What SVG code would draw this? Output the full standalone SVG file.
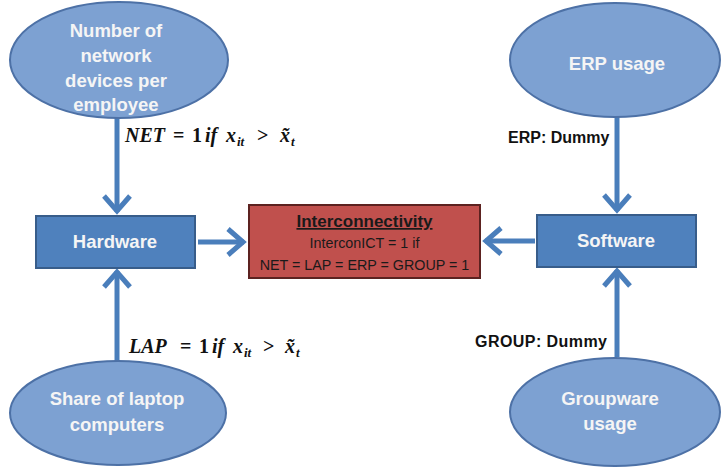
<svg xmlns="http://www.w3.org/2000/svg" width="721" height="467" viewBox="0 0 721 467">
<style>
.ell{fill:#7da1d2;stroke:#4d71a6;stroke-width:2}
.box{fill:#4f81bd;stroke:#385d8a;stroke-width:2}
.red{fill:#c0504d;stroke:#5c2220;stroke-width:2}
.lt{font-family:"Liberation Sans",Arial,sans-serif;font-weight:bold;font-size:18.5px;fill:#f5f5f5;text-anchor:middle}
.ct{font-family:"Liberation Sans",Arial,sans-serif;font-size:14.3px;fill:#1a1a1a;text-anchor:middle}
.ttl{font-weight:bold;font-size:17px;text-decoration:underline}
.lab{font-family:"Liberation Sans",Arial,sans-serif;font-weight:bold;font-size:16px;fill:#111}
.m{font-family:"Liberation Serif","Times New Roman",serif;font-weight:bold;font-style:italic;font-size:20px;fill:#111}
.up{font-style:normal}
.sub{font-size:13px}
.conn{stroke:#4a7ebb;stroke-width:5;fill:none;marker-end:url(#ah)}
</style>
<defs>
<marker id="ah" markerUnits="userSpaceOnUse" markerWidth="40" markerHeight="40" refX="0" refY="0" viewBox="-20 -20 40 40" orient="auto" overflow="visible">
<path d="M-16,-13 L-1,0 L-16,13" fill="none" stroke="#4a7ebb" stroke-width="5" stroke-linejoin="miter"/>
</marker>
</defs>
<rect width="721" height="467" fill="#ffffff"/>
<g id="connectors">
<line class="conn" x1="117" y1="118" x2="117" y2="212"/>
<line class="conn" x1="117" y1="362" x2="117" y2="271"/>
<line class="conn" x1="198" y1="242" x2="244" y2="242"/>
<line class="conn" x1="535" y1="241" x2="485" y2="241"/>
<line class="conn" x1="617" y1="117" x2="617" y2="211"/>
<line class="conn" x1="617" y1="357" x2="617" y2="270"/>
</g>
<g id="node-network">
<ellipse class="ell" cx="119" cy="60" rx="109" ry="58"/>
<text class="lt" x="116" y="37">Number of</text>
<text class="lt" x="116" y="62">network</text>
<text class="lt" x="116" y="87">devices per</text>
<text class="lt" x="116" y="111">employee</text>
</g>
<g id="node-erp">
<ellipse class="ell" cx="615" cy="60" rx="105" ry="57"/>
<text class="lt" x="617" y="70">ERP usage</text>
</g>
<g id="node-laptop">
<ellipse class="ell" cx="118" cy="413" rx="108" ry="52"/>
<text class="lt" x="117" y="405">Share of laptop</text>
<text class="lt" x="117" y="431">computers</text>
</g>
<g id="node-groupware">
<ellipse class="ell" cx="615" cy="412" rx="105" ry="54"/>
<text class="lt" x="610" y="405">Groupware</text>
<text class="lt" x="610" y="430">usage</text>
</g>
<g id="node-hardware">
<rect class="box" x="36" y="216" width="159" height="52"/>
<text class="lt" x="115" y="248">Hardware</text>
</g>
<g id="node-software">
<rect class="box" x="537" y="215" width="159" height="52"/>
<text class="lt" x="616" y="247">Software</text>
</g>
<g id="node-interconnectivity">
<rect class="red" x="249" y="205" width="231" height="73"/>
<text class="ct ttl" x="364.5" y="227">Interconnectivity</text>
<text class="ct" x="364.5" y="248">InterconICT = 1 if</text>
<text class="ct" x="364.5" y="270">NET = LAP = ERP = GROUP = 1</text>
</g>
<g id="labels">
<text class="m" y="142"><tspan x="125">NET</tspan><tspan class="up" x="173">=</tspan><tspan class="up" x="192">1</tspan><tspan x="205">if</tspan><tspan x="226">x</tspan><tspan class="sub" x="237" dy="4">it</tspan><tspan class="up" x="257" dy="-4">&gt;</tspan><tspan x="280">x̃</tspan><tspan class="sub" x="291" dy="4">t</tspan></text>
<text class="m" y="353"><tspan x="129">LAP</tspan><tspan class="up" x="180">=</tspan><tspan class="up" x="199">1</tspan><tspan x="212">if</tspan><tspan x="233">x</tspan><tspan class="sub" x="244" dy="4">it</tspan><tspan class="up" x="263" dy="-4">&gt;</tspan><tspan x="285">x̃</tspan><tspan class="sub" x="296" dy="4">t</tspan></text>
<text class="lab" x="508" y="143">ERP: Dummy</text>
<text class="lab" x="475" y="347" textLength="132">GROUP: Dummy</text>
</g>
</svg>
